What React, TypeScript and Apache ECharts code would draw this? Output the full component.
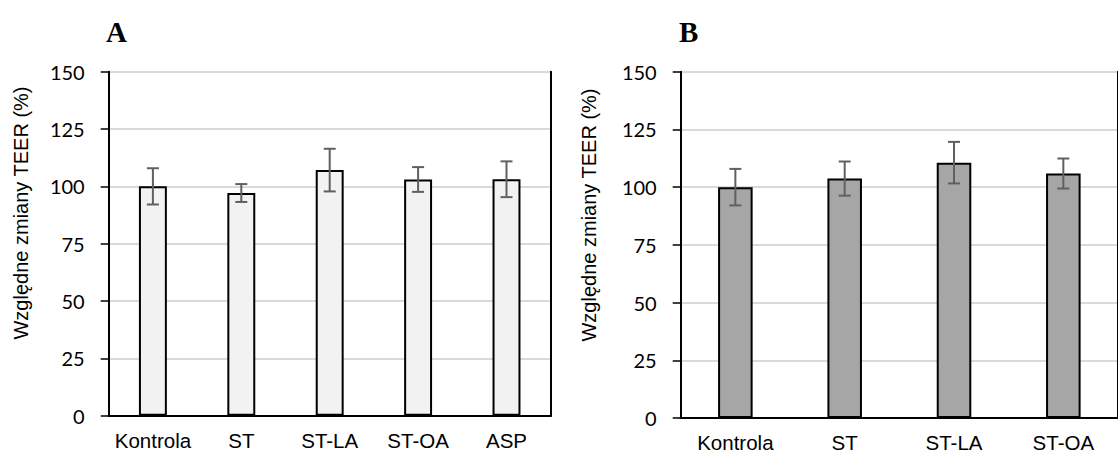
import React, { useEffect, useRef } from "react";
import * as echarts from "echarts";

// Panel A: all five treatments
const categoriesA = ["Kontrola", "ST", "ST-LA", "ST-OA", "ASP"];
const meansA = [100, 97.1, 107.1, 103.0, 103.1];
const errorsA = [7.9, 3.9, 9.3, 5.4, 7.8];

// Panel B: four treatments
const categoriesB = ["Kontrola", "ST", "ST-LA", "ST-OA"];
const meansB = [100, 103.7, 110.6, 105.9];
const errorsB = [7.9, 7.4, 9.0, 6.5];

// Shared value axis
const yMin = 0;
const yMax = 150;
const yStep = 25;

const axisTitle = "Względne zmiany TEER (%)";
const panelTitles = ["A", "B"];

const errorColor = "#606060";
const frameLine = { show: true, lineStyle: { color: "#000", width: 2 } };

function errorBarRenderer(params: any, api: any) {
  const idx = api.value(0);
  const lo = api.coord([idx, api.value(1)]);
  const hi = api.coord([idx, api.value(2)]);
  const half = 6;
  const style = { stroke: errorColor, lineWidth: 2 };
  return {
    type: "group",
    children: [
      { type: "line", shape: { x1: hi[0], y1: hi[1], x2: lo[0], y2: lo[1] }, style },
      { type: "line", shape: { x1: hi[0] - half, y1: hi[1], x2: hi[0] + half, y2: hi[1] }, style },
      { type: "line", shape: { x1: lo[0] - half, y1: lo[1], x2: lo[0] + half, y2: lo[1] }, style },
    ],
  };
}

function xAxisFor(cats: string[], gridIndex: number) {
  return {
    type: "category",
    gridIndex,
    data: cats,
    axisTick: { show: false },
    axisLine: frameLine,
    axisLabel: {
      interval: 0,
      color: "#000",
      fontFamily: "Liberation Sans",
      fontSize: 20.5,
      margin: 14,
    },
  };
}

// top edge of the plot frame
function topFrame(cats: string[], gridIndex: number) {
  return {
    type: "category",
    gridIndex,
    position: "top",
    data: cats,
    axisTick: { show: false },
    axisLabel: { show: false },
    axisLine: frameLine,
    splitLine: { show: false },
  };
}

function yAxisFor(gridIndex: number) {
  return {
    type: "value",
    gridIndex,
    min: yMin,
    max: yMax,
    interval: yStep,
    axisLine: frameLine,
    axisTick: { show: true, length: 8, lineStyle: { color: "#000", width: 1.5 } },
    axisLabel: {
      color: "#000",
      fontFamily: "Lato",
      fontSize: 20,
      margin: 24,
    },
    splitLine: { show: true, lineStyle: { color: "#d9d9d9", width: 2 } },
  };
}

// right edge of the plot frame
function rightFrame(gridIndex: number) {
  return {
    type: "value",
    gridIndex,
    position: "right",
    min: yMin,
    max: yMax,
    interval: yStep,
    axisLine: frameLine,
    axisTick: { show: false },
    axisLabel: { show: false },
    splitLine: { show: false },
  };
}

function barSeries(values: number[], idx: number, fill: string) {
  return {
    type: "bar",
    xAxisIndex: idx * 2,
    yAxisIndex: idx * 2,
    data: values,
    barWidth: "31.6%",
    itemStyle: { color: fill, borderColor: "#000", borderWidth: 2 },
    z: 2,
  };
}

function errorSeries(values: number[], errs: number[], idx: number) {
  return {
    type: "custom",
    xAxisIndex: idx * 2,
    yAxisIndex: idx * 2,
    renderItem: errorBarRenderer,
    encode: { x: 0, y: [1, 2] },
    data: values.map((m, i) => [i, m - errs[i], m + errs[i]]),
    z: 5,
  };
}

function rotatedTitle(x: number, y: number) {
  return {
    type: "text",
    x,
    y,
    rotation: Math.PI / 2,
    style: {
      text: axisTitle,
      fontFamily: "Liberation Sans",
      fontSize: 20,
      fill: "#000",
      align: "center",
      verticalAlign: "middle",
      textAlign: "center",
      textVerticalAlign: "middle",
    },
  };
}

function panelLabel(text: string, x: number) {
  return {
    type: "text",
    x,
    y: 32,
    style: {
      text,
      fontFamily: "Liberation Serif",
      fontWeight: "bold",
      fontSize: 29,
      fill: "#000",
      align: "left",
      verticalAlign: "middle",
      textAlign: "left",
      textVerticalAlign: "middle",
    },
  };
}

export default function App() {
  const ref = useRef<HTMLDivElement>(null);

  useEffect(() => {
    if (!ref.current) return;
    const chart = echarts.init(ref.current, null, { renderer: "svg" });
    chart.setOption({
      animation: false,
      backgroundColor: "#fff",
      grid: [
        { left: 108.7, top: 71.7, width: 442, height: 344 },
        { left: 680.7, top: 71.7, width: 449.6, height: 347 },
      ],
      xAxis: [
        xAxisFor(categoriesA, 0),
        topFrame(categoriesA, 0),
        xAxisFor(categoriesB, 1),
        topFrame(categoriesB, 1),
      ],
      yAxis: [yAxisFor(0), rightFrame(0), yAxisFor(1), rightFrame(1)],
      series: [
        barSeries(meansA, 0, "#f2f2f2"),
        errorSeries(meansA, errorsA, 0),
        barSeries(meansB, 1, "#a6a6a6"),
        errorSeries(meansB, errorsB, 1),
      ],
      graphic: [
        panelLabel(panelTitles[0], 106),
        panelLabel(panelTitles[1], 679),
        rotatedTitle(20.7, 213),
        rotatedTitle(589.4, 215),
      ],
    });
    return () => chart.dispose();
  }, []);

  return (
    <div
      ref={ref}
      style={{ position: "fixed", left: 0, top: 0, width: 1118, height: 453, overflow: "hidden" }}
    />
  );
}
